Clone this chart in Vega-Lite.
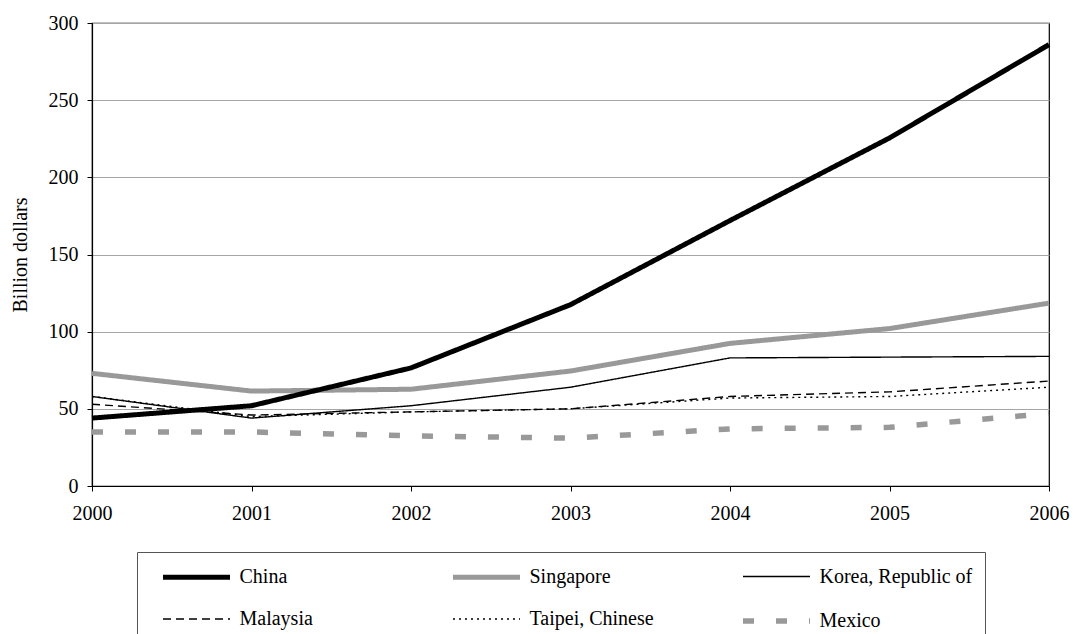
{
  "$schema": "https://vega.github.io/schema/vega-lite/v6.json",
  "width": 957,
  "height": 463,
  "autosize": {"type": "none"},
  "padding": {"left": 92, "top": 23, "right": 24, "bottom": 148},
  "background": "#ffffff",
  "config": {
    "font": "Liberation Serif",
    "view": {"stroke": "#000000", "strokeWidth": 1.2},
    "axis": {
      "labelFont": "Liberation Serif",
      "labelFontSize": 20,
      "labelColor": "#000000",
      "domainColor": "#000000",
      "tickColor": "#000000",
      "tickSize": 5,
      "domainWidth": 1.2,
      "titleFont": "Liberation Serif",
      "titleFontSize": 20,
      "titleFontWeight": "normal",
      "titleColor": "#000000"
    }
  },
  "data": {
    "values": [
      {"year": 2000, "series": "Mexico", "value": 35},
      {"year": 2001, "series": "Mexico", "value": 35},
      {"year": 2002, "series": "Mexico", "value": 32.5},
      {"year": 2003, "series": "Mexico", "value": 31},
      {"year": 2004, "series": "Mexico", "value": 37},
      {"year": 2005, "series": "Mexico", "value": 38},
      {"year": 2006, "series": "Mexico", "value": 47},
      {"year": 2000, "series": "Taipei, Chinese", "value": 58},
      {"year": 2001, "series": "Taipei, Chinese", "value": 45},
      {"year": 2002, "series": "Taipei, Chinese", "value": 48},
      {"year": 2003, "series": "Taipei, Chinese", "value": 50},
      {"year": 2004, "series": "Taipei, Chinese", "value": 57},
      {"year": 2005, "series": "Taipei, Chinese", "value": 58},
      {"year": 2006, "series": "Taipei, Chinese", "value": 64},
      {"year": 2000, "series": "Malaysia", "value": 53},
      {"year": 2001, "series": "Malaysia", "value": 46},
      {"year": 2002, "series": "Malaysia", "value": 48},
      {"year": 2003, "series": "Malaysia", "value": 50},
      {"year": 2004, "series": "Malaysia", "value": 58},
      {"year": 2005, "series": "Malaysia", "value": 61},
      {"year": 2006, "series": "Malaysia", "value": 68},
      {"year": 2000, "series": "Korea, Republic of", "value": 58},
      {"year": 2001, "series": "Korea, Republic of", "value": 44},
      {"year": 2002, "series": "Korea, Republic of", "value": 52},
      {"year": 2003, "series": "Korea, Republic of", "value": 64},
      {"year": 2004, "series": "Korea, Republic of", "value": 83},
      {"year": 2005, "series": "Korea, Republic of", "value": 83.5},
      {"year": 2006, "series": "Korea, Republic of", "value": 84},
      {"year": 2000, "series": "Singapore", "value": 73},
      {"year": 2001, "series": "Singapore", "value": 61.5},
      {"year": 2002, "series": "Singapore", "value": 62.7},
      {"year": 2003, "series": "Singapore", "value": 74.5},
      {"year": 2004, "series": "Singapore", "value": 92.4},
      {"year": 2005, "series": "Singapore", "value": 102},
      {"year": 2006, "series": "Singapore", "value": 118.5},
      {"year": 2000, "series": "China", "value": 44},
      {"year": 2001, "series": "China", "value": 52},
      {"year": 2002, "series": "China", "value": 76.5},
      {"year": 2003, "series": "China", "value": 117.5},
      {"year": 2004, "series": "China", "value": 172},
      {"year": 2005, "series": "China", "value": 225.5},
      {"year": 2006, "series": "China", "value": 286}
    ]
  },
  "mark": {"type": "line", "strokeCap": "butt", "strokeJoin": "round"},
  "encoding": {
    "x": {
      "field": "year",
      "type": "quantitative",
      "scale": {"domain": [2000, 2006], "nice": false, "zero": false},
      "axis": {
        "values": [2000, 2001, 2002, 2003, 2004, 2005, 2006],
        "format": "d",
        "title": null,
        "grid": false,
        "labelFlush": false,
        "labelPadding": 12
      }
    },
    "y": {
      "field": "value",
      "type": "quantitative",
      "scale": {"domain": [0, 300], "nice": false},
      "axis": {
        "values": [0, 50, 100, 150, 200, 250, 300],
        "title": "Billion dollars",
        "titlePadding": 18,
        "grid": true,
        "gridColor": "#a6a6a6",
        "gridWidth": 1,
        "labelFlush": false,
        "labelPadding": 9
      }
    },
    "color": {
      "field": "series",
      "type": "nominal",
      "scale": {
        "domain": ["China", "Singapore", "Korea, Republic of", "Malaysia", "Taipei, Chinese", "Mexico"],
        "range": ["#000000", "#999999", "#000000", "#000000", "#000000", "#999999"]
      },
      "legend": {
        "title": null,
        "orient": "none",
        "legendX": 45,
        "legendY": 529,
        "direction": "horizontal",
        "columns": 3,
        "gridAlign": "all",
        "symbolType": "M-3.35,0H3.35",
        "symbolSize": 400,
        "symbolOffset": 34.5,
        "labelFont": "Liberation Serif",
        "labelFontSize": 20,
        "labelColor": "#000000",
        "labelOffset": 30,
        "labelLimit": 400,
        "columnPadding": 46,
        "rowPadding": 20,
        "padding": 12,
        "strokeColor": "#555555",
        "fillColor": "#ffffff"
      }
    },
    "strokeWidth": {
      "field": "series",
      "type": "nominal",
      "scale": {
        "type": "ordinal",
        "domain": ["China", "Singapore", "Korea, Republic of", "Malaysia", "Taipei, Chinese", "Mexico"],
        "range": [5, 5, 1.4, 1.4, 1.4, 5.5]
      }
    },
    "strokeDash": {
      "field": "series",
      "type": "nominal",
      "scale": {
        "domain": ["China", "Singapore", "Korea, Republic of", "Malaysia", "Taipei, Chinese", "Mexico"],
        "range": [[1, 0], [1, 0], [1, 0], [8, 5], [2, 4], [11, 22]]
      }
    }
  }
}
